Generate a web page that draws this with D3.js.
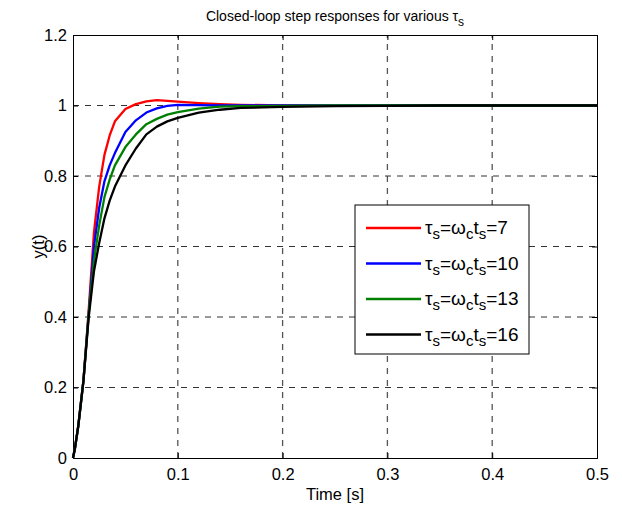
<html>
<head>
<meta charset="utf-8">
<title>Closed-loop step responses</title>
<style>
  body { margin: 0; background: #fff; }
  text { font-family: "Liberation Sans", Arial, sans-serif; }
</style>
</head>
<body>
<script src="https://cdn.jsdelivr.net/npm/d3@7"></script>
<script>
var width = 622, height = 506;
var margin = {top: 35, right: 25, bottom: 48, left: 73};

// time samples [s]
var time = [0, 0.002, 0.005, 0.01, 0.015, 0.02, 0.025, 0.03, 0.035, 0.04, 0.05, 0.06,
            0.07, 0.08, 0.09, 0.1, 0.12, 0.14, 0.16, 0.2, 0.25, 0.3, 0.35, 0.5];
// y(t) for each tau_s
var y7  = [0, 0.03, 0.09, 0.22, 0.42, 0.64, 0.77, 0.86, 0.915, 0.955, 0.99, 1.004,
           1.012, 1.015, 1.013, 1.011, 1.007, 1.004, 1.002, 1.0, 1.0, 1.0, 1.0, 1.0];
var y10 = [0, 0.03, 0.09, 0.22, 0.41, 0.60, 0.71, 0.785, 0.83, 0.865, 0.925, 0.958,
           0.98, 0.992, 0.999, 1.002, 1.001, 1.0, 1.0, 1.0, 1.0, 1.0, 1.0, 1.0];
var y13 = [0, 0.03, 0.09, 0.22, 0.41, 0.56, 0.66, 0.74, 0.79, 0.83, 0.882, 0.918,
           0.947, 0.962, 0.974, 0.981, 0.991, 0.997, 0.998, 0.999, 1.0, 1.0, 1.0, 1.0];
var y16 = [0, 0.03, 0.09, 0.22, 0.40, 0.53, 0.61, 0.68, 0.73, 0.77, 0.83, 0.878,
           0.918, 0.94, 0.955, 0.965, 0.98, 0.988, 0.993, 0.996, 0.998, 0.999, 1.0, 1.0];

var tauValues = ["7", "10", "13", "16"];
var colors = ["#ff0000", "#0000ff", "#008000", "#000000"];
var seriesList = [y7, y10, y13, y16];

var xTicks = [0, 0.1, 0.2, 0.3, 0.4, 0.5];
var yTicks = [0, 0.2, 0.4, 0.6, 0.8, 1, 1.2];

var svg = d3.select("body").append("svg")
    .attr("width", width)
    .attr("height", height);

var w = width - margin.left - margin.right;
var h = height - margin.top - margin.bottom;

var x = d3.scaleLinear().domain([0, 0.5]).range([margin.left, margin.left + w]);
var y = d3.scaleLinear().domain([0, 1.2]).range([margin.top + h, margin.top]);

// grid
svg.append("g").selectAll("line.gx")
    .data(xTicks.slice(1, -1))
    .enter().append("line")
    .attr("x1", d => x(d)).attr("x2", d => x(d))
    .attr("y1", y(0)).attr("y2", y(1.2))
    .attr("stroke", "#555").attr("stroke-width", 1.3)
    .attr("stroke-dasharray", "6,6");
svg.append("g").selectAll("line.gy")
    .data(yTicks.slice(1, -1))
    .enter().append("line")
    .attr("x1", x(0)).attr("x2", x(0.5))
    .attr("y1", d => y(d)).attr("y2", d => y(d))
    .attr("stroke", "#333").attr("stroke-width", 1)
    .attr("stroke-dasharray", "6,6");

// axes (ticks inside, mirrored on top and right)
function fmt(d) { return d3.format("")(+d.toFixed(1)); }
var axB = svg.append("g").attr("transform", "translate(0," + y(0) + ")")
    .call(d3.axisBottom(x).tickValues(xTicks).tickSize(-5).tickPadding(10).tickFormat(fmt));
var axL = svg.append("g").attr("transform", "translate(" + x(0) + ",0)")
    .call(d3.axisLeft(y).tickValues(yTicks).tickSize(-5).tickPadding(6).tickFormat(fmt));
var axT = svg.append("g").attr("transform", "translate(0," + y(1.2) + ")")
    .call(d3.axisTop(x).tickValues(xTicks).tickSize(-5).tickFormat(""));
var axR = svg.append("g").attr("transform", "translate(" + x(0.5) + ",0)")
    .call(d3.axisRight(y).tickValues(yTicks).tickSize(-5).tickFormat(""));
[axB, axL, axT, axR].forEach(function (a) {
    a.select(".domain").attr("stroke", "#000").attr("stroke-width", 1);
    a.selectAll(".tick line").attr("stroke", "#000");
    a.selectAll(".tick text").attr("font-size", 16.5).attr("fill", "#000")
        .style("font-family", "Liberation Sans, Arial, sans-serif");
});

// curves
var line = d3.line()
    .x((d, i) => x(time[i]))
    .y(d => y(d));
svg.append("g").selectAll("path")
    .data(seriesList)
    .enter().append("path")
    .attr("d", d => line(d))
    .attr("fill", "none")
    .attr("stroke", (d, i) => colors[i])
    .attr("stroke-width", 2.3)
    .attr("stroke-linejoin", "round");

// title
var title = svg.append("text")
    .attr("x", (x(0) + x(0.5)) / 2).attr("y", 21)
    .attr("text-anchor", "middle").attr("font-size", 14);
title.append("tspan").text("Closed-loop step responses for various τ");
title.append("tspan").attr("dy", 5).attr("font-size", 12).text("s");

// axis labels
svg.append("text")
    .attr("x", (x(0) + x(0.5)) / 2).attr("y", 500)
    .attr("text-anchor", "middle").attr("font-size", 16.5)
    .text("Time [s]");
svg.append("text")
    .attr("transform", "translate(44," + y(0.6) + ") rotate(-90)")
    .attr("text-anchor", "middle").attr("font-size", 16.5)
    .text("y(t)");

// legend
var lg = svg.append("g").attr("transform", "translate(355,205)");
lg.append("rect").attr("width", 174).attr("height", 149)
    .attr("fill", "#fff").attr("stroke", "#000").attr("stroke-width", 1);
var rows = lg.selectAll("g.row")
    .data(tauValues)
    .enter().append("g")
    .attr("transform", (d, i) => "translate(0," + (23 + i * 35.5) + ")");
rows.append("line")
    .attr("x1", 11).attr("x2", 66)
    .attr("stroke", (d, i) => colors[i]).attr("stroke-width", 2.3);
rows.each(function (d) {
    var t = d3.select(this).append("text")
        .attr("x", 70).attr("y", 6).attr("font-size", 19);
    t.append("tspan").text("τ");
    t.append("tspan").attr("dy", 5).attr("font-size", 15).text("s");
    t.append("tspan").attr("dy", -5).text("=ω");
    t.append("tspan").attr("dy", 5).attr("font-size", 15).text("c");
    t.append("tspan").attr("dy", -5).text("t");
    t.append("tspan").attr("dy", 5).attr("font-size", 15).text("s");
    t.append("tspan").attr("dy", -5).text("=" + d);
});
</script>
</body>
</html>
